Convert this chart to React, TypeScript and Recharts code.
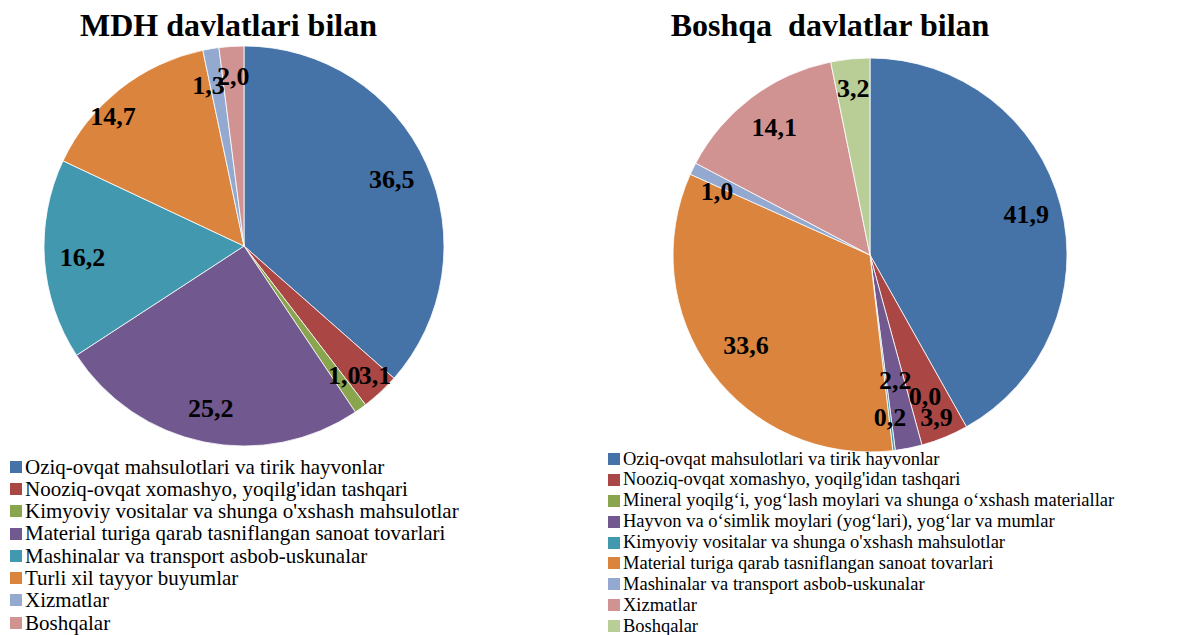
import { PieChart, Pie, Cell } from "recharts";

// MDH davlatlari bilan
const leftNames = [
  "Oziq-ovqat mahsulotlari va tirik hayvonlar",
  "Nooziq-ovqat xomashyo, yoqilg'idan tashqari",
  "Kimyoviy vositalar va shunga o'xshash mahsulotlar",
  "Material turiga qarab tasniflangan sanoat tovarlari",
  "Mashinalar va transport asbob-uskunalar",
  "Turli xil tayyor buyumlar",
  "Xizmatlar",
  "Boshqalar",
];
const leftValues = [36.5, 3.1, 1.0, 25.2, 16.2, 14.7, 1.3, 2.0];
const leftColors = ["#4572A7", "#AA4643", "#89A54E", "#71588F", "#4198AF", "#DB843D", "#93A9CF", "#D19392"];

// Boshqa davlatlar bilan
const rightNames = [
  "Oziq-ovqat mahsulotlari va tirik hayvonlar",
  "Nooziq-ovqat xomashyo, yoqilg'idan tashqari",
  "Mineral yoqilg‘i, yog‘lash moylari va shunga o‘xshash materiallar",
  "Hayvon va o‘simlik moylari (yog‘lari), yog‘lar va mumlar",
  "Kimyoviy vositalar va shunga o'xshash mahsulotlar",
  "Material turiga qarab tasniflangan sanoat tovarlari",
  "Mashinalar va transport asbob-uskunalar",
  "Xizmatlar",
  "Boshqalar",
];
const rightValues = [41.9, 3.9, 0.0, 2.2, 0.2, 33.6, 1.0, 14.1, 3.2];
const rightColors = ["#4572A7", "#AA4643", "#89A54E", "#71588F", "#4198AF", "#DB843D", "#93A9CF", "#D19392", "#B9CD96"];

// label placement (radius factor, angle shift in degrees)
const leftLabelR = [0.81, 0.92, 0.82, 0.83, 0.81, 0.92, 0.82, 0.85];
const leftLabelShift = [0, 2.4, 2, 0, 0, 7, 3, 0];
const rightLabelR = [0.82, 0.89, 0.77, 0.65, 0.83, 0.78, 0.84, 0.81, 0.85];
const rightLabelShift = [0, 0, 6, 0, 0, 0, 3.5, 0, 0];

const RAD = Math.PI / 180;
const FONT = "'Liberation Serif', 'Times New Roman', serif";
const NO_MARGIN = { top: 0, right: 0, bottom: 0, left: 0 };

const fmt = (v: number) => v.toFixed(1).replace(".", ",");

const makeLabel = (rs: number[], shifts: number[]) => (props: any) => {
  const { cx, cy, midAngle, outerRadius, index, value } = props;
  const a = (midAngle + shifts[index]) * RAD;
  const r = outerRadius * rs[index];
  const x = cx + r * Math.cos(-a);
  const y = cy + r * Math.sin(-a);
  return (
    <text
      key={index}
      x={x}
      y={y}
      textAnchor="middle"
      dominantBaseline="central"
      fill="#000"
      fontFamily={FONT}
      fontWeight="bold"
      fontSize={26}
    >
      {fmt(value)}
    </text>
  );
};

const Legend = ({ names, colors, left, top, rowH, fontSize, gap }: any) => (
  <div style={{ position: "absolute", left, top, fontFamily: FONT, fontSize, color: "#000" }}>
    {names.map((n: string, i: number) => (
      <div key={i} style={{ height: rowH, lineHeight: rowH + "px", whiteSpace: "nowrap", display: "flex", alignItems: "center" }}>
        <span style={{ display: "inline-block", width: 12, height: 12, background: colors[i], marginRight: gap }} />
        <span>{n}</span>
      </div>
    ))}
  </div>
);

const titleStyle: any = {
  position: "absolute",
  top: 9,
  textAlign: "center",
  fontFamily: FONT,
  fontWeight: "bold",
  fontSize: 32,
  lineHeight: "32px",
  whiteSpace: "pre",
  color: "#000",
};

const App = () => {
  const leftData = leftNames.map((name, i) => ({ name, value: leftValues[i] }));
  const rightData = rightNames.map((name, i) => ({ name, value: rightValues[i] }));

  return (
    <div style={{ position: "absolute", left: 0, top: 0, width: 1194, height: 635, background: "#fff", overflow: "hidden" }}>
      <div style={{ ...titleStyle, left: 0, width: 457 }}>MDH davlatlari bilan</div>
      <div style={{ ...titleStyle, left: 600, width: 460 }}>{"Boshqa  davlatlar bilan"}</div>

      <div style={{ position: "absolute", left: 0, top: 0 }}>
        <PieChart width={600} height={460} margin={NO_MARGIN}>
          <Pie
            data={leftData}
            dataKey="value"
            nameKey="name"
            cx={244}
            cy={246}
            outerRadius={200}
            startAngle={90}
            endAngle={-270}
            stroke="#fff"
            strokeWidth={0.8}
            labelLine={false}
            label={makeLabel(leftLabelR, leftLabelShift)}
            isAnimationActive={false}
          >
            {leftData.map((_, i) => (
              <Cell key={i} fill={leftColors[i]} />
            ))}
          </Pie>
        </PieChart>
      </div>

      <div style={{ position: "absolute", left: 600, top: 0 }}>
        <PieChart width={594} height={460} margin={NO_MARGIN}>
          <Pie
            data={rightData}
            dataKey="value"
            nameKey="name"
            cx={270}
            cy={255}
            outerRadius={197}
            startAngle={90}
            endAngle={-270}
            stroke="#fff"
            strokeWidth={0.8}
            labelLine={false}
            label={makeLabel(rightLabelR, rightLabelShift)}
            isAnimationActive={false}
          >
            {rightData.map((_, i) => (
              <Cell key={i} fill={rightColors[i]} />
            ))}
          </Pie>
        </PieChart>
      </div>

      <Legend names={leftNames} colors={leftColors} left={10} top={455.5} rowH={22.3} fontSize={21} gap={3} />
      <Legend names={rightNames} colors={rightColors} left={608} top={448.5} rowH={20.9} fontSize={18.5} gap={3} />
    </div>
  );
};

export default App;
